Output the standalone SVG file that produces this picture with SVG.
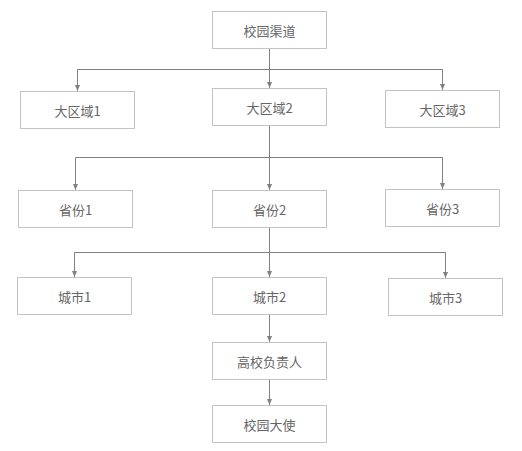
<svg xmlns="http://www.w3.org/2000/svg" width="522" height="451" viewBox="0 0 522 451">
<style>
.box{fill:#fff;stroke:#c3c3c3;stroke-width:1}
.lbl{font-family:"Noto Sans CJK SC","Liberation Sans",sans-serif;font-size:13px;fill:#666;text-anchor:middle;dominant-baseline:central}
.ln{fill:none;stroke:#808080;stroke-width:1}
</style>
<defs>
<marker id="ah" markerWidth="6" markerHeight="5" refX="6" refY="2.5" orient="auto" markerUnits="userSpaceOnUse">
<path d="M0,0 L6,2.5 L0,5 Z" fill="#808080"/>
</marker>
</defs>
<rect width="522" height="451" fill="#fff"/>
<g id="connectors">
<path class="ln" d="M269.5,48.5 V69.5"/>
<path class="ln" d="M77.5,69.5 H442.5"/>
<path class="ln" d="M77.5,69.5 V91" marker-end="url(#ah)"/>
<path class="ln" d="M269.5,69.5 V88" marker-end="url(#ah)"/>
<path class="ln" d="M442.5,69.5 V90" marker-end="url(#ah)"/>
<path class="ln" d="M269.5,125.5 V157.5"/>
<path class="ln" d="M75.5,157.5 H442.5"/>
<path class="ln" d="M75.5,157.5 V190" marker-end="url(#ah)"/>
<path class="ln" d="M269.5,157.5 V190" marker-end="url(#ah)"/>
<path class="ln" d="M442.5,157.5 V189" marker-end="url(#ah)"/>
<path class="ln" d="M269.5,227.5 V252.5"/>
<path class="ln" d="M74.5,252.5 H445.5"/>
<path class="ln" d="M74.5,252.5 V277" marker-end="url(#ah)"/>
<path class="ln" d="M269.5,252.5 V277" marker-end="url(#ah)"/>
<path class="ln" d="M445.5,252.5 V278" marker-end="url(#ah)"/>
<path class="ln" d="M269.5,314.5 V342" marker-end="url(#ah)"/>
<path class="ln" d="M269.5,379.5 V405" marker-end="url(#ah)"/>
</g>
<g id="n-root"><rect class="box" x="212.5" y="11.5" width="114" height="37"/><text class="lbl" x="269.5" y="30">校园渠道</text></g>
<g id="n-r1"><rect class="box" x="20.5" y="91.5" width="114" height="37"/><text class="lbl" x="77.5" y="110">大区域1</text></g>
<g id="n-r2"><rect class="box" x="212.5" y="88.5" width="114" height="37"/><text class="lbl" x="269.5" y="107">大区域2</text></g>
<g id="n-r3"><rect class="box" x="385.5" y="90.5" width="114" height="37"/><text class="lbl" x="442.5" y="109">大区域3</text></g>
<g id="n-p1"><rect class="box" x="18.5" y="190.5" width="114" height="37"/><text class="lbl" x="75.5" y="209">省份1</text></g>
<g id="n-p2"><rect class="box" x="212.5" y="190.5" width="114" height="37"/><text class="lbl" x="269.5" y="209">省份2</text></g>
<g id="n-p3"><rect class="box" x="385.5" y="189.5" width="114" height="37"/><text class="lbl" x="442.5" y="208">省份3</text></g>
<g id="n-c1"><rect class="box" x="17.5" y="277.5" width="114" height="37"/><text class="lbl" x="74.5" y="296">城市1</text></g>
<g id="n-c2"><rect class="box" x="212.5" y="277.5" width="114" height="37"/><text class="lbl" x="269.5" y="296">城市2</text></g>
<g id="n-c3"><rect class="box" x="388.5" y="278.5" width="114" height="37"/><text class="lbl" x="445.5" y="297">城市3</text></g>
<g id="n-head"><rect class="box" x="212.5" y="342.5" width="114" height="37"/><text class="lbl" x="269.5" y="361">高校负责人</text></g>
<g id="n-amb"><rect class="box" x="212.5" y="405.5" width="114" height="37"/><text class="lbl" x="269.5" y="424">校园大使</text></g>
</svg>
